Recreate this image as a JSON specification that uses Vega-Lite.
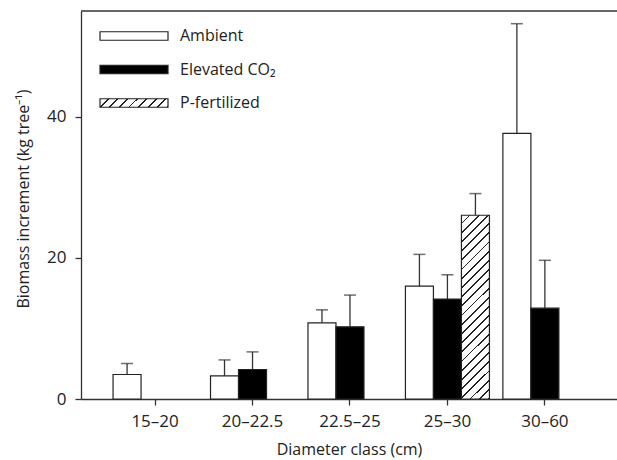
{
  "$schema": "https://vega.github.io/schema/vega-lite/v6.json",
  "width": 536,
  "height": 388,
  "autosize": {"type": "none"},
  "padding": {"left": 81, "top": 11, "right": 0, "bottom": 61},
  "background": "white",
  "config": {
    "view": {"stroke": null},
    "font": "Open Sans",
    "axis": {
      "domainColor": "#333333",
      "domainWidth": 1.3,
      "tickColor": "#333333",
      "tickWidth": 1.3,
      "tickSize": 6,
      "labelColor": "#222222",
      "titleColor": "#222222",
      "labelFontSize": 17,
      "titleFontSize": 16,
      "titleFontWeight": "normal",
      "grid": false
    },
    "legend": {"labelColor": "#222222"}
  },
  "data": {
    "values": [
      {"cls": "15–20", "trt": "Ambient", "value": 3.47, "upper": 5.03},
      {"cls": "20–22.5", "trt": "Ambient", "value": 3.27, "upper": 5.54},
      {"cls": "20–22.5", "trt": "Elevated CO₂", "value": 4.18, "upper": 6.68},
      {"cls": "22.5–25", "trt": "Ambient", "value": 10.8, "upper": 12.64},
      {"cls": "22.5–25", "trt": "Elevated CO₂", "value": 10.23, "upper": 14.73},
      {"cls": "25–30", "trt": "Ambient", "value": 16.0, "upper": 20.5},
      {"cls": "25–30", "trt": "Elevated CO₂", "value": 14.16, "upper": 17.61},
      {"cls": "25–30", "trt": "P-fertilized", "value": 26.05, "upper": 29.12},
      {"cls": "30–60", "trt": "Ambient", "value": 37.64, "upper": 53.2},
      {"cls": "30–60", "trt": "Elevated CO₂", "value": 12.88, "upper": 19.66}
    ]
  },
  "layer": [
    {
      "mark": {"type": "rule", "color": "#333333", "strokeWidth": 1.3},
      "encoding": {
        "x": {"field": "cls", "type": "nominal", "sort": null, "scale": {"paddingInner": 0, "paddingOuter": 0.25, "align": 0.52}, "axis": {"title": "Diameter class (cm)", "labelAngle": 0, "labelPadding": 8, "titlePadding": 12}},
        "xOffset": {"field": "trt", "type": "nominal", "scale": {"domain": ["Ambient", "Elevated CO₂", "P-fertilized"], "paddingInner": 0, "paddingOuter": 0.24}},
        "y": {"field": "value", "type": "quantitative", "scale": {"domain": [0, 55], "nice": false}, "axis": {"title": "Biomass increment (kg tree⁻¹)", "values": [0, 20, 40], "labelPadding": 9, "titlePadding": 15, "titleY": 187.5}},
        "y2": {"field": "upper"}
      }
    },
    {
      "mark": {"type": "tick", "orient": "horizontal", "color": "#333333", "thickness": 1.5, "size": 12},
      "encoding": {
        "x": {"field": "cls", "type": "nominal", "sort": null},
        "xOffset": {"field": "trt", "type": "nominal"},
        "y": {"field": "upper", "type": "quantitative"}
      }
    },
    {
      "mark": {"type": "bar", "stroke": "#222222", "strokeWidth": 1.2},
      "encoding": {
        "x": {"field": "cls", "type": "nominal", "sort": null},
        "xOffset": {"field": "trt", "type": "nominal"},
        "y": {"field": "value", "type": "quantitative"},
        "fill": {
          "condition": {
            "test": "datum.trt === 'P-fertilized'",
            "value": {
              "gradient": "linear", "x1": 0, "y1": 0, "x2": 0.1709, "y2": 1.126,
              "stops": [
                {"offset": 0, "color": "#ffffff"}, {"offset": 0.0348, "color": "#ffffff"}, {"offset": 0.0348, "color": "#222222"}, {"offset": 0.0435, "color": "#222222"},
                {"offset": 0.0435, "color": "#ffffff"}, {"offset": 0.0783, "color": "#ffffff"}, {"offset": 0.0783, "color": "#222222"}, {"offset": 0.0870, "color": "#222222"},
                {"offset": 0.0870, "color": "#ffffff"}, {"offset": 0.1217, "color": "#ffffff"}, {"offset": 0.1217, "color": "#222222"}, {"offset": 0.1304, "color": "#222222"},
                {"offset": 0.1304, "color": "#ffffff"}, {"offset": 0.1652, "color": "#ffffff"}, {"offset": 0.1652, "color": "#222222"}, {"offset": 0.1739, "color": "#222222"},
                {"offset": 0.1739, "color": "#ffffff"}, {"offset": 0.2087, "color": "#ffffff"}, {"offset": 0.2087, "color": "#222222"}, {"offset": 0.2174, "color": "#222222"},
                {"offset": 0.2174, "color": "#ffffff"}, {"offset": 0.2522, "color": "#ffffff"}, {"offset": 0.2522, "color": "#222222"}, {"offset": 0.2609, "color": "#222222"},
                {"offset": 0.2609, "color": "#ffffff"}, {"offset": 0.2957, "color": "#ffffff"}, {"offset": 0.2957, "color": "#222222"}, {"offset": 0.3043, "color": "#222222"},
                {"offset": 0.3043, "color": "#ffffff"}, {"offset": 0.3391, "color": "#ffffff"}, {"offset": 0.3391, "color": "#222222"}, {"offset": 0.3478, "color": "#222222"},
                {"offset": 0.3478, "color": "#ffffff"}, {"offset": 0.3826, "color": "#ffffff"}, {"offset": 0.3826, "color": "#222222"}, {"offset": 0.3913, "color": "#222222"},
                {"offset": 0.3913, "color": "#ffffff"}, {"offset": 0.4261, "color": "#ffffff"}, {"offset": 0.4261, "color": "#222222"}, {"offset": 0.4348, "color": "#222222"},
                {"offset": 0.4348, "color": "#ffffff"}, {"offset": 0.4696, "color": "#ffffff"}, {"offset": 0.4696, "color": "#222222"}, {"offset": 0.4783, "color": "#222222"},
                {"offset": 0.4783, "color": "#ffffff"}, {"offset": 0.5130, "color": "#ffffff"}, {"offset": 0.5130, "color": "#222222"}, {"offset": 0.5217, "color": "#222222"},
                {"offset": 0.5217, "color": "#ffffff"}, {"offset": 0.5565, "color": "#ffffff"}, {"offset": 0.5565, "color": "#222222"}, {"offset": 0.5652, "color": "#222222"},
                {"offset": 0.5652, "color": "#ffffff"}, {"offset": 0.6000, "color": "#ffffff"}, {"offset": 0.6000, "color": "#222222"}, {"offset": 0.6087, "color": "#222222"},
                {"offset": 0.6087, "color": "#ffffff"}, {"offset": 0.6435, "color": "#ffffff"}, {"offset": 0.6435, "color": "#222222"}, {"offset": 0.6522, "color": "#222222"},
                {"offset": 0.6522, "color": "#ffffff"}, {"offset": 0.6870, "color": "#ffffff"}, {"offset": 0.6870, "color": "#222222"}, {"offset": 0.6957, "color": "#222222"},
                {"offset": 0.6957, "color": "#ffffff"}, {"offset": 0.7304, "color": "#ffffff"}, {"offset": 0.7304, "color": "#222222"}, {"offset": 0.7391, "color": "#222222"},
                {"offset": 0.7391, "color": "#ffffff"}, {"offset": 0.7739, "color": "#ffffff"}, {"offset": 0.7739, "color": "#222222"}, {"offset": 0.7826, "color": "#222222"},
                {"offset": 0.7826, "color": "#ffffff"}, {"offset": 0.8174, "color": "#ffffff"}, {"offset": 0.8174, "color": "#222222"}, {"offset": 0.8261, "color": "#222222"},
                {"offset": 0.8261, "color": "#ffffff"}, {"offset": 0.8609, "color": "#ffffff"}, {"offset": 0.8609, "color": "#222222"}, {"offset": 0.8696, "color": "#222222"},
                {"offset": 0.8696, "color": "#ffffff"}, {"offset": 0.9043, "color": "#ffffff"}, {"offset": 0.9043, "color": "#222222"}, {"offset": 0.9130, "color": "#222222"},
                {"offset": 0.9130, "color": "#ffffff"}, {"offset": 0.9478, "color": "#ffffff"}, {"offset": 0.9478, "color": "#222222"}, {"offset": 0.9565, "color": "#222222"},
                {"offset": 0.9565, "color": "#ffffff"}, {"offset": 0.9913, "color": "#ffffff"}, {"offset": 0.9913, "color": "#222222"}, {"offset": 1, "color": "#222222"}
              ]
            }
          },
          "field": "trt",
          "type": "nominal",
          "scale": {
            "domain": ["Ambient", "Elevated CO₂", "P-fertilized"],
            "range": [
              "#ffffff",
              "#000000",
              {"expr": "{gradient: 'linear', x1: 0, y1: 0, x2: 1.1077, y2: 0.1385, stops: [{offset: 0, color: '#ffffff'}, {offset: 0.1, color: '#ffffff'}, {offset: 0.1, color: '#222222'}, {offset: 0.125, color: '#222222'}, {offset: 0.125, color: '#ffffff'}, {offset: 0.225, color: '#ffffff'}, {offset: 0.225, color: '#222222'}, {offset: 0.25, color: '#222222'}, {offset: 0.25, color: '#ffffff'}, {offset: 0.35, color: '#ffffff'}, {offset: 0.35, color: '#222222'}, {offset: 0.375, color: '#222222'}, {offset: 0.375, color: '#ffffff'}, {offset: 0.475, color: '#ffffff'}, {offset: 0.475, color: '#222222'}, {offset: 0.5, color: '#222222'}, {offset: 0.5, color: '#ffffff'}, {offset: 0.6, color: '#ffffff'}, {offset: 0.6, color: '#222222'}, {offset: 0.625, color: '#222222'}, {offset: 0.625, color: '#ffffff'}, {offset: 0.725, color: '#ffffff'}, {offset: 0.725, color: '#222222'}, {offset: 0.75, color: '#222222'}, {offset: 0.75, color: '#ffffff'}, {offset: 0.85, color: '#ffffff'}, {offset: 0.85, color: '#222222'}, {offset: 0.875, color: '#222222'}, {offset: 0.875, color: '#ffffff'}, {offset: 0.975, color: '#ffffff'}, {offset: 0.975, color: '#222222'}, {offset: 1, color: '#222222'}]}"}
            ]
          },
          "legend": {
            "title": null,
            "orient": "none",
            "legendX": 42,
            "legendY": 14,
            "symbolType": "M-3.4,-0.425H3.4V0.425H-3.4Z",
            "symbolSize": 400,
            "symbolStrokeColor": "#222222",
            "symbolStrokeWidth": 1.2,
            "symbolOffset": 0,
            "labelFontSize": 16,
            "labelOffset": 35,
            "rowPadding": 14.5
          }
        }
      }
    },
    {
      "data": {"values": [{}]},
      "mark": {"type": "rule", "color": "#333333", "strokeWidth": 1.3},
      "encoding": {"y": {"datum": 55, "type": "quantitative"}}
    }
  ]
}
